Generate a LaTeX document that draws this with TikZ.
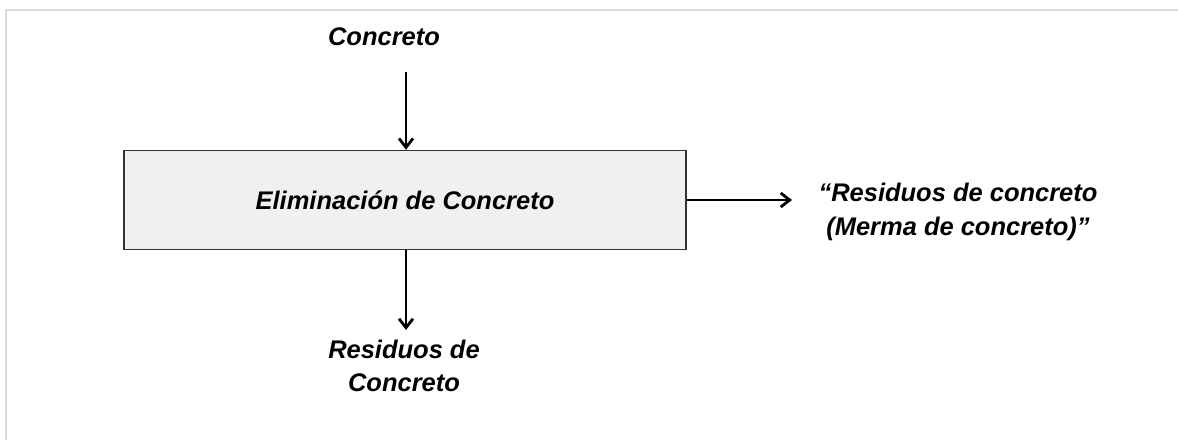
\documentclass[tikz,border=0pt]{standalone}
\usepackage{fontspec}
\setmainfont{Liberation Sans}
\usetikzlibrary{arrows.meta}

\begin{document}
\begin{tikzpicture}[x = 0.02cm, y = -0.02cm,
    flecha/.style = {line width = 1.6pt, -{Straight Barb[length = 1.8mm, width = 2.8mm, line width = 1.6pt]}},
    texto/.style = {font = \fontsize{14.5}{19}\selectfont\bfseries\itshape, align = center, inner sep = 0pt},
    proceso/.style = {draw = black!80, line width = 0.9pt, fill = black!6, minimum width = 11.24cm, minimum height = 1.98cm}]

    \useasboundingbox (0,0) rectangle (1178,440);
    \draw[black!15, line width = 1.2pt] (6,440) -- (6,10) -- (1178,10);

    \node [proceso, texto] (elim) at (405,200) {Eliminación de Concreto};

    \node [texto] (entrada) at (384,37) {Concreto};
    \node [texto] (residuos) at (404,366) {Residuos de\\Concreto};
    \node [texto] (merma) at (958,212) {“Residuos de concreto\\(Merma de concreto)”};

    \coordinate (iniA) at (406,72);
    \coordinate (finB) at (406,330);
    \coordinate (finR) at (792,200);

    \draw [flecha] (iniA) -- (elim.north -| iniA);
    \draw [flecha] (elim.south -| finB) -- (finB);
    \draw [flecha] (elim.east) -- (finR);

\end{tikzpicture}
\end{document}
